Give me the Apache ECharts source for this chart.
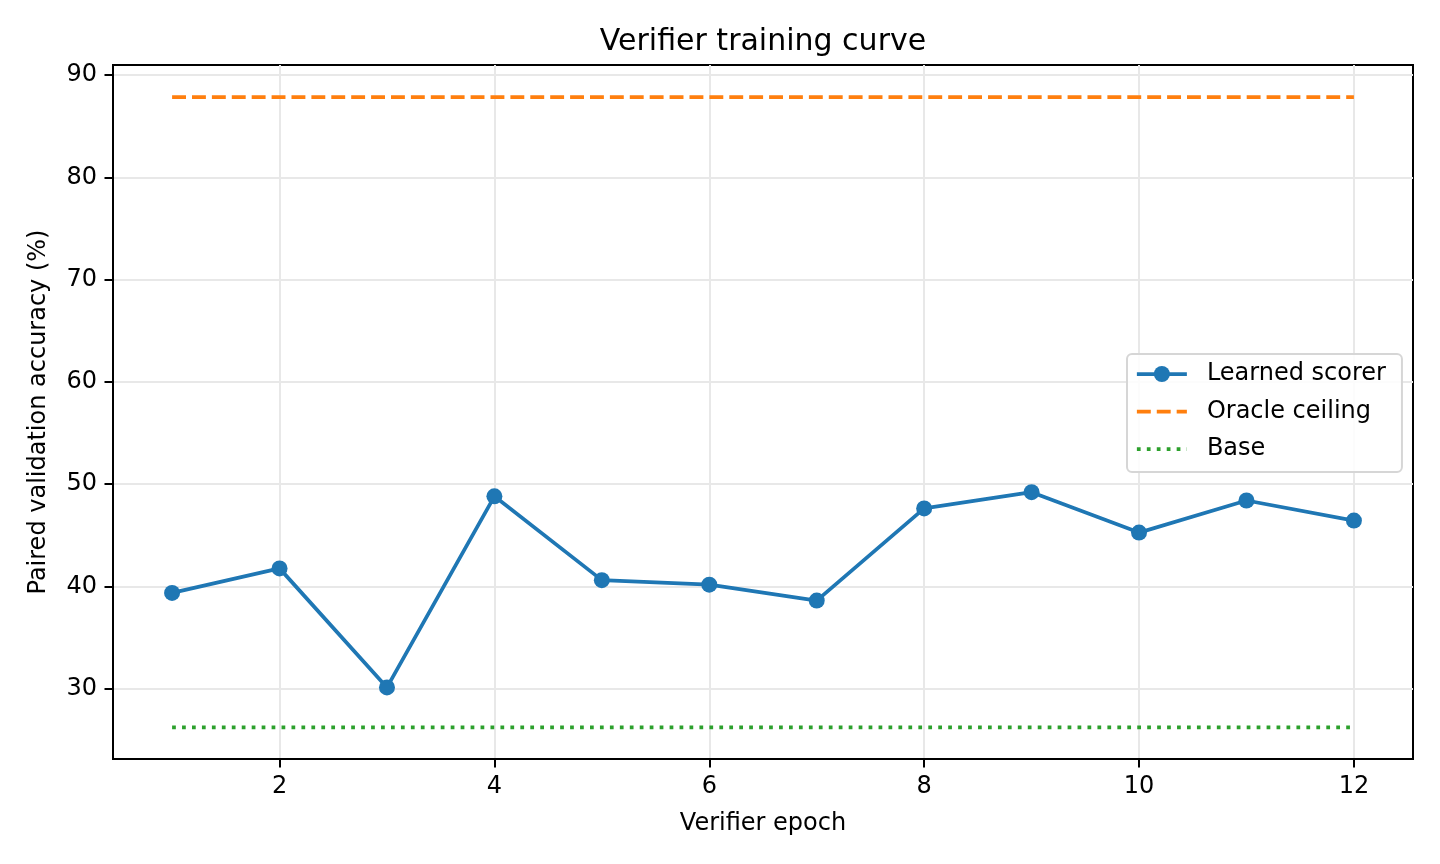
<!DOCTYPE html>
<html>
<head>
<meta charset="utf-8">
<title>Verifier training curve</title>
<script src="https://cdn.jsdelivr.net/npm/echarts@6/dist/echarts.min.js"></script>
<style>
  html, body { margin: 0; padding: 0; background: #fff; }
  #chart { width: 1440px; height: 864px; }
</style>
</head>
<body>
<div id="chart"></div>
<script>
// data
const epochs = [1, 2, 3, 4, 5, 6, 7, 8, 9, 10, 11, 12];
const learnedScores = [39.35, 41.75, 30.1, 48.8, 40.6, 40.16, 38.6, 47.62, 49.21, 45.25, 48.39, 46.43];
const oracleCeiling = 87.85;
const baseAccuracy = 26.2;
const xTicks = [2, 4, 6, 8, 10, 12];
const yTicks = [30, 40, 50, 60, 70, 80, 90];

const FONT = 'DejaVu Sans';
const chart = echarts.init(document.getElementById('chart'), null, { renderer: 'canvas' });

// flat reference lines span the epochs
const oracleData = [[epochs[0], oracleCeiling], [epochs[epochs.length - 1], oracleCeiling]];
const baseData = [[epochs[0], baseAccuracy], [epochs[epochs.length - 1], baseAccuracy]];

const axisCommon = {
    type: 'value',
    axisLine: { show: true, lineStyle: { color: '#000', width: 2 } },
    axisTick: { show: true, length: 8.5, lineStyle: { color: '#000', width: 2 } },
    axisLabel: { color: '#000', fontFamily: FONT, fontSize: 24, margin: 16 },
    splitLine: { show: true, lineStyle: { color: '#e8e8e8', width: 2 } },
    nameLocation: 'middle',
    nameTextStyle: { color: '#000', fontFamily: FONT, fontSize: 24 }
};

// legend: no marker on the flat reference lines
const hiddenMarker = { color: 'rgba(0,0,0,0)', borderWidth: 0 };

const option = {
    animation: false,
    backgroundColor: '#fff',
    title: {
        text: 'Verifier training curve',
        left: 763,
        top: 27,
        padding: 0,
        textAlign: 'center',
        textStyle: { color: '#000', fontFamily: FONT, fontSize: 30, fontWeight: 'normal' }
    },
    grid: {
        left: 113, right: 27, top: 65, bottom: 105,
        show: true, borderColor: '#000', borderWidth: 2, backgroundColor: 'transparent'
    },
    legend: {
        orient: 'vertical',
        left: 1127,
        top: 354,
        padding: [7, 16, 10, 8],
        itemWidth: 50,
        itemHeight: 20,
        itemGap: 11.5,
        backgroundColor: 'rgba(255,255,255,0.85)',
        borderColor: '#d6d6d6',
        borderWidth: 2,
        borderRadius: 5,
        lineStyle: { width: 3.75 },
        textStyle: { color: '#000', fontFamily: FONT, fontSize: 24, lineHeight: 26, padding: [0, 0, 0, 15] },
        data: [
            { name: 'Learned scorer' },
            { name: 'Oracle ceiling', itemStyle: hiddenMarker },
            { name: 'Base', itemStyle: hiddenMarker }
        ]
    },
    xAxis: Object.assign({}, axisCommon, {
        min: 0.45,
        max: 12.55,
        name: 'Verifier epoch',
        nameGap: 53,
        axisTick: Object.assign({}, axisCommon.axisTick, { customValues: xTicks }),
        axisLabel: Object.assign({}, axisCommon.axisLabel, { customValues: xTicks })
    }),
    yAxis: Object.assign({}, axisCommon, {
        min: 23.1,
        max: 91.0,
        name: 'Paired validation accuracy (%)',
        nameGap: 62,
        axisTick: Object.assign({}, axisCommon.axisTick, { customValues: yTicks }),
        axisLabel: Object.assign({}, axisCommon.axisLabel, { customValues: yTicks })
    }),
    series: [
        {
            name: 'Learned scorer',
            type: 'line',
            data: epochs.map((e, i) => [e, learnedScores[i]]),
            symbol: 'circle',
            symbolSize: 16,
            color: '#1f77b4',
            itemStyle: { color: '#1f77b4', borderWidth: 0 },
            lineStyle: { color: '#1f77b4', width: 3.75 },
            z: 3
        },
        {
            name: 'Oracle ceiling',
            type: 'line',
            data: oracleData,
            symbol: 'none',
            showSymbol: false,
            color: '#ff7f0e',
            lineStyle: { color: '#ff7f0e', width: 3.75, type: [13.9, 6] },
            z: 4
        },
        {
            name: 'Base',
            type: 'line',
            data: baseData,
            symbol: 'none',
            showSymbol: false,
            color: '#2ca02c',
            lineStyle: { color: '#2ca02c', width: 3.75, type: [3.75, 6.2] },
            z: 5
        }
    ]
};

option && chart.setOption(option);
</script>
</body>
</html>
